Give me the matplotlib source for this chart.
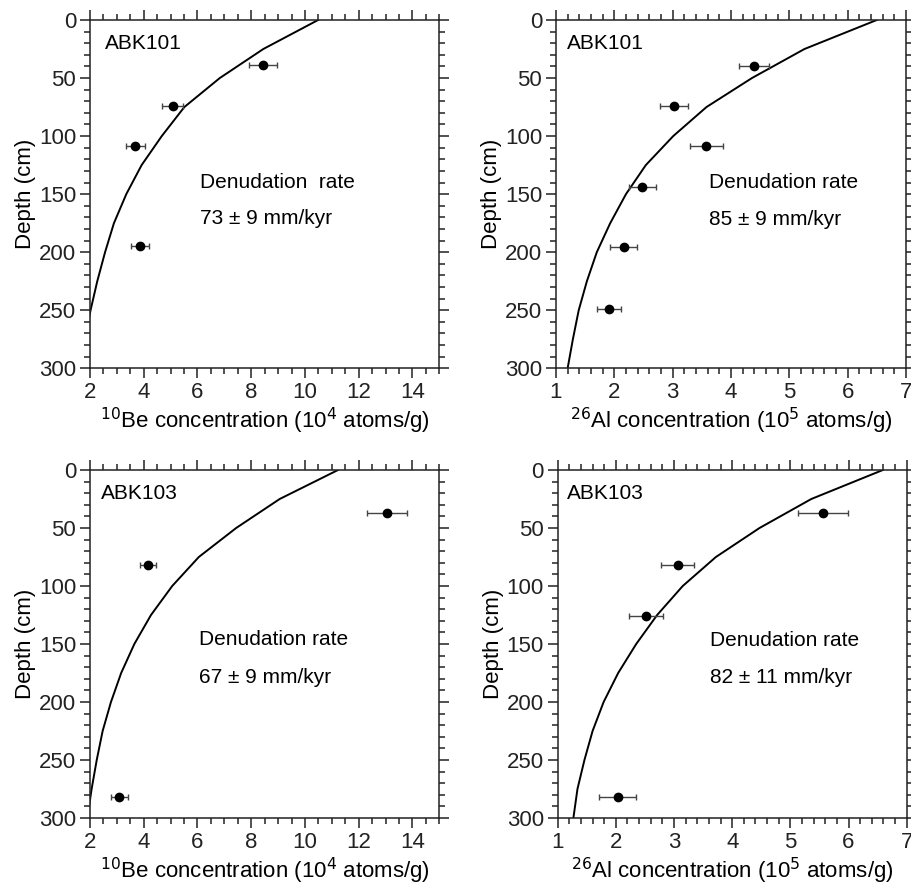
import matplotlib.pyplot as plt
from matplotlib.ticker import MultipleLocator

plt.rcParams['font.family'] = ['Liberation Sans', 'DejaVu Sans']

# model curve depths (cm)
curve_depth = [0, 25, 50, 75, 100, 125, 150, 175, 200, 225, 250, 275, 300]

# ABK101, 10Be
be101_depth = [39, 74, 108.5, 195]
be101_conc = [8.45, 5.07, 3.69, 3.86]
be101_err = [0.52, 0.38, 0.34, 0.33]
be101_curve = [10.49, 8.45, 6.83, 5.51, 4.67, 3.92, 3.35, 2.89, 2.56, 2.27, 2.02, 1.82, 1.65]

# ABK101, 26Al
al101_depth = [39.3, 74, 108.8, 143.5, 195.5, 249]
al101_conc = [4.39, 3.02, 3.58, 2.48, 2.16, 1.91]
al101_err = [0.26, 0.245, 0.28, 0.23, 0.23, 0.21]
al101_curve = [6.50, 5.26, 4.36, 3.58, 3.01, 2.54, 2.20, 1.93, 1.70, 1.53, 1.39, 1.29, 1.20]

# ABK103, 10Be
be103_depth = [37, 81.5, 282]
be103_conc = [13.06, 4.17, 3.09]
be103_err = [0.74, 0.30, 0.32]
be103_curve = [11.23, 9.06, 7.44, 6.05, 5.06, 4.27, 3.65, 3.16, 2.78, 2.47, 2.25, 2.06, 1.90]

# ABK103, 26Al
al103_depth = [37.2, 81.7, 126, 282]
al103_conc = [5.56, 3.06, 2.52, 2.03]
al103_err = [0.43, 0.28, 0.29, 0.32]
al103_curve = [6.59, 5.36, 4.47, 3.72, 3.15, 2.71, 2.35, 2.04, 1.79, 1.60, 1.46, 1.34, 1.27]

be_label = r'$^{10}$Be concentration (10$^{4}$ atoms/g)'
al_label = r'$^{26}$Al concentration (10$^{5}$ atoms/g)'

panels = [
    # rect, sample, conc, depth, err, curve, xlim, major, minor, xlabel, rate, text pos
    ([0.0987, 0.5871, 0.383, 0.3905], 'ABK101', be101_conc, be101_depth, be101_err, be101_curve,
     (2, 15), 2, 0.5, be_label, ['Denudation  rate', '73 ± 9 mm/kyr'], (2.56, 6.09, 140, 171)),
    ([0.6096, 0.5871, 0.3838, 0.3905], 'ABK101', al101_conc, al101_depth, al101_err, al101_curve,
     (1, 7), 1, 0.2, al_label, ['Denudation rate', '85 ± 9 mm/kyr'], (1.19, 3.63, 140, 172)),
    ([0.0987, 0.0830, 0.383, 0.3901], 'ABK103', be103_conc, be103_depth, be103_err, be103_curve,
     (2, 15), 2, 0.5, be_label, ['Denudation rate', '67 ± 9 mm/kyr'], (2.41, 6.07, 146, 178.6)),
    ([0.6115, 0.0830, 0.3827, 0.3901], 'ABK103', al103_conc, al103_depth, al103_err, al103_curve,
     (1, 7), 1, 0.2, al_label, ['Denudation rate', '82 ± 11 mm/kyr'], (1.16, 3.61, 146.7, 178.8)),
]

fig = plt.figure(figsize=(9.12, 8.92), dpi=100)

for rect, name, conc, depth, err, curve, xlim, major, minor, xlabel, rate, tpos in panels:
    ax = fig.add_axes(rect)
    ax.plot(curve, curve_depth, color='black', lw=1.4)
    ax.errorbar(conc, depth, xerr=err, fmt='o', color='black', ms=6,
                ecolor='#444444', elinewidth=1, capsize=2.5, capthick=1)
    ax.set_xlim(*xlim)
    ax.set_ylim(300, 0)
    ax.xaxis.set_major_locator(MultipleLocator(major))
    ax.xaxis.set_minor_locator(MultipleLocator(minor))
    ax.yaxis.set_major_locator(MultipleLocator(50))
    ax.yaxis.set_minor_locator(MultipleLocator(10))
    ax.tick_params(which='both', direction='out', top=True, right=True,
                   labelsize=16, width=1.1, colors='#222222', pad=3)
    ax.tick_params(which='major', length=7)
    ax.tick_params(which='minor', length=4.5)
    for s in ax.spines.values():
        s.set_linewidth(1.1)
        s.set_color('#222222')
    ax.set_xlabel(xlabel, fontsize=16, labelpad=2)
    ax.set_ylabel('Depth (cm)', fontsize=16, labelpad=2)
    ax.text(tpos[0], 20, name, fontsize=15, va='center', ha='left')
    ax.text(tpos[1], tpos[2], rate[0], fontsize=15, va='center', ha='left')
    ax.text(tpos[1], tpos[3], rate[1], fontsize=15, va='center', ha='left')

fig.savefig('out.png', dpi=100)
